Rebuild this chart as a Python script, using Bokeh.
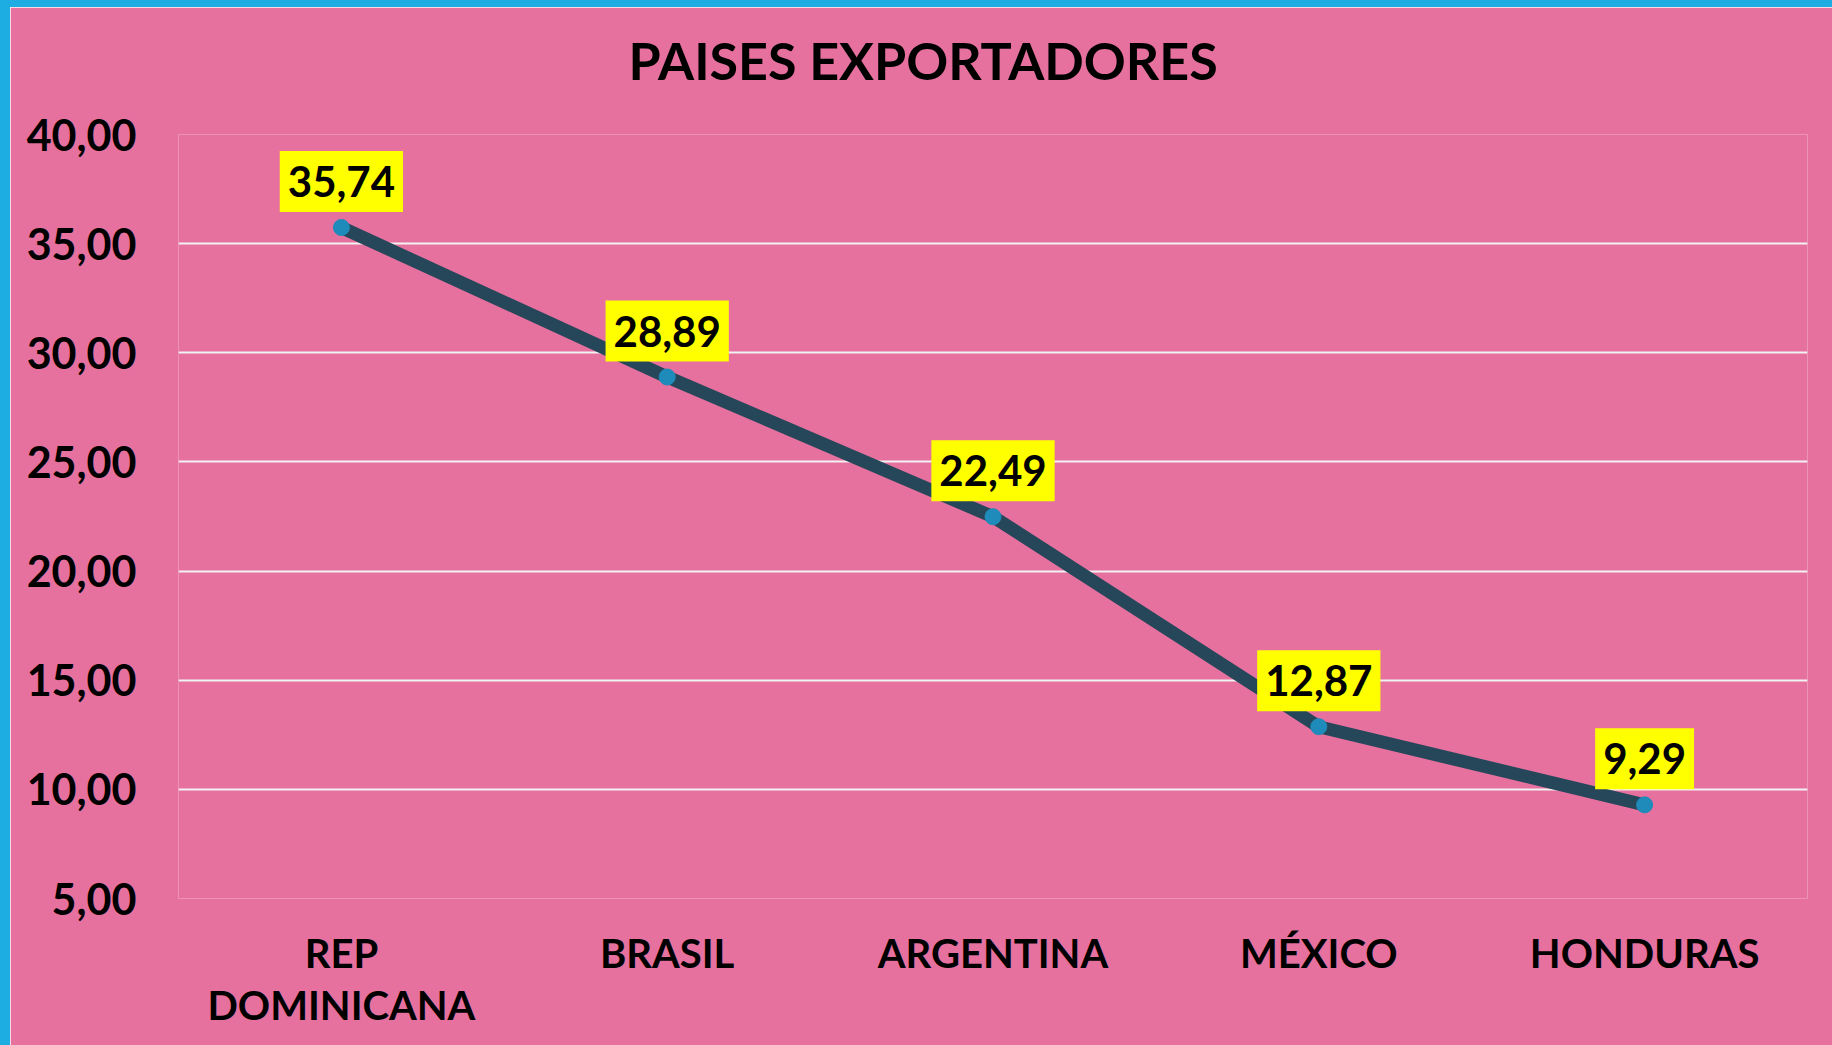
from bokeh.plotting import figure
from bokeh.models import Range1d, FixedTicker, CustomJSTickFormatter, ColumnDataSource, Title
from bokeh.core.properties import value
from bokeh.embed import file_html
from bokeh.resources import INLINE

# ---- data ----
countries = ["REP\nDOMINICANA", "BRASIL", "ARGENTINA", "MÉXICO", "HONDURAS"]
values = [35.74, 28.89, 22.49, 12.87, 9.29]
y_ticks = [5, 10, 15, 20, 25, 30, 35, 40]
title_text = "PAISES EXPORTADORES"

FONT = "Lato"
PINK = "#E6719F"
BLUE = "#1EADE3"

src = ColumnDataSource(dict(
    x=countries,
    y=values,
    lbl=[f"{v:.2f}".replace(".", ",") for v in values],
))

p = figure(x_range=countries, y_range=Range1d(5, 40),
           width=1832, height=1045, output_backend="svg",
           toolbar_location=None, tools="",
           min_border_left=168, min_border_right=35,
           min_border_top=127, min_border_bottom=154)
p.x_range.range_padding = 0
p.styles = {"border-left": f"10px solid {BLUE}", "border-top": f"7px solid {BLUE}"}

p.background_fill_color = PINK
p.border_fill_color = PINK
p.outline_line_color = None

# spacer between frame and title (pushes the title up)
p.add_layout(Title(text=" ", text_font_size="1px", standoff=36), "above")

# title
p.title.text = title_text
p.title.align = "left"
p.title.offset = 450
p.title.vertical_align = "bottom"
p.title.text_font = FONT
p.title.text_font_style = "bold"
p.title.text_font_size = "52px"
p.title.text_color = "black"

# grid
p.xgrid.grid_line_color = None
p.ygrid.grid_line_color = "#F2F2F2"
p.ygrid.grid_line_width = 2

# y axis
p.yaxis.ticker = FixedTicker(ticks=y_ticks)
p.yaxis.formatter = CustomJSTickFormatter(code="return tick.toFixed(2).replace('.', ',');")
p.yaxis.axis_line_color = None
p.yaxis.major_tick_line_color = None
p.yaxis.minor_tick_line_color = None
p.yaxis.major_label_standoff = 36
p.yaxis.major_label_text_font = FONT
p.yaxis.major_label_text_font_style = "bold"
p.yaxis.major_label_text_font_size = "43px"
p.yaxis.major_label_text_color = "black"

# x axis
p.xaxis.axis_line_color = None
p.xaxis.major_tick_line_color = None
p.xaxis.minor_tick_line_color = None
p.xaxis.major_label_standoff = 24
p.xaxis.major_label_text_font = FONT
p.xaxis.major_label_text_font_style = "bold"
p.xaxis.major_label_text_font_size = "40px"
p.xaxis.major_label_text_color = "black"
p.xaxis.major_label_text_line_height = 1.1

# line + markers
p.line("x", "y", source=src, line_width=13, line_color="#26475A", line_cap="round",
       line_join="round")
p.scatter("x", "y", source=src, size=16, fill_color="#1F8BBA", line_color="#1F8BBA")

p.text("x", "y", text="lbl", source=src, y_offset=-46,
       text_align="center", text_baseline="middle",
       text_font=value(FONT), text_font_style="bold", text_font_size="42px",
       text_color="black",
       background_fill_color="#FFFF00", background_fill_alpha=1.0,
       padding=dict(left=8, right=8, top=15, bottom=15))

open("out.html", "w").write(file_html(p, INLINE))
